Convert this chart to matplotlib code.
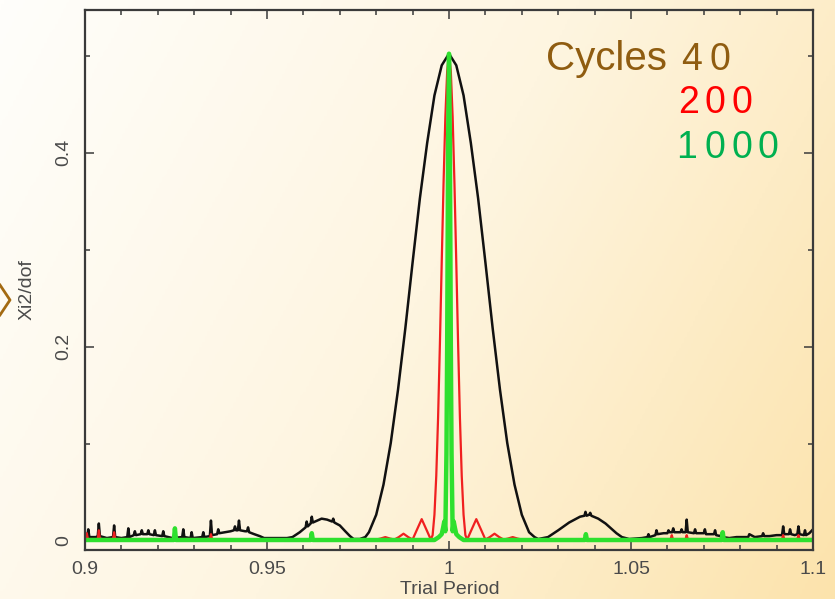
import numpy as np
import matplotlib
matplotlib.use("Agg")
import matplotlib.pyplot as plt
from matplotlib.colors import LinearSegmentedColormap
from matplotlib.lines import Line2D

plt.rcParams['font.family'] = ['Liberation Sans', 'DejaVu Sans']

# ---- data: (trial period, xi2/dof) ----
black_pts = [
    (0.9000, 0.004), (0.9006, 0.004), (0.9009, 0.012), (0.9012, 0.004),
    (0.9030, 0.004), (0.9035, 0.005), (0.9038, 0.018), (0.9041, 0.005),
    (0.9060, 0.003), (0.9077, 0.004), (0.9080, 0.016), (0.9083, 0.004),
    (0.9100, 0.003), (0.9116, 0.004), (0.9119, 0.013), (0.9122, 0.004),
    (0.9134, 0.006), (0.9137, 0.010), (0.9140, 0.006), (0.9153, 0.007),
    (0.9156, 0.011), (0.9159, 0.007), (0.9171, 0.007), (0.9174, 0.011),
    (0.9177, 0.007), (0.9189, 0.006), (0.9192, 0.011), (0.9195, 0.006),
    (0.9212, 0.005), (0.9215, 0.010), (0.9218, 0.005), (0.9240, 0.003),
    (0.9267, 0.004), (0.9270, 0.012), (0.9273, 0.004), (0.9290, 0.003),
    (0.9293, 0.009), (0.9296, 0.003), (0.9322, 0.004), (0.9325, 0.009),
    (0.9328, 0.004), (0.9343, 0.005), (0.9346, 0.021), (0.9349, 0.006),
    (0.9363, 0.007), (0.9366, 0.012), (0.9369, 0.008), (0.9385, 0.009),
    (0.9400, 0.010), (0.9409, 0.011), (0.9412, 0.015), (0.9415, 0.011),
    (0.9420, 0.011), (0.9423, 0.021), (0.9426, 0.011), (0.9440, 0.010),
    (0.9445, 0.010), (0.9448, 0.014), (0.9451, 0.009), (0.9465, 0.007),
    (0.9480, 0.005), (0.9492, 0.003), (0.9520, 0.003), (0.9555, 0.003),
    (0.9570, 0.004), (0.9590, 0.009), (0.9606, 0.014), (0.9609, 0.020),
    (0.9612, 0.015), (0.9620, 0.018), (0.9623, 0.025), (0.9626, 0.019),
    (0.9650, 0.023), (0.9665, 0.022), (0.9679, 0.020), (0.9682, 0.023),
    (0.9685, 0.019), (0.9700, 0.016), (0.9715, 0.010), (0.9728, 0.005),
    (0.9738, 0.002), (0.9755, 0.002), (0.9770, 0.004), (0.9780, 0.009),
    (0.9800, 0.027), (0.9820, 0.058), (0.9840, 0.101), (0.9860, 0.156),
    (0.9880, 0.219), (0.9900, 0.287), (0.9920, 0.353), (0.9940, 0.410),
    (0.9960, 0.459), (0.9980, 0.490), (1.0000, 0.502), (1.0020, 0.490),
    (1.0040, 0.459), (1.0060, 0.410), (1.0080, 0.353), (1.0100, 0.287),
    (1.0120, 0.219), (1.0140, 0.156), (1.0160, 0.101), (1.0180, 0.058),
    (1.0200, 0.027), (1.0220, 0.009), (1.0235, 0.004), (1.0245, 0.002),
    (1.0272, 0.004), (1.0300, 0.011), (1.0330, 0.019), (1.0360, 0.025),
    (1.0372, 0.026), (1.0375, 0.030), (1.0378, 0.026), (1.0385, 0.027),
    (1.0388, 0.029), (1.0391, 0.026), (1.0410, 0.023), (1.0430, 0.018),
    (1.0445, 0.013), (1.0460, 0.008), (1.0475, 0.004), (1.0495, 0.002),
    (1.0530, 0.003), (1.0545, 0.004), (1.0548, 0.007), (1.0551, 0.004),
    (1.0567, 0.006), (1.0570, 0.011), (1.0573, 0.007), (1.0590, 0.008),
    (1.0600, 0.008), (1.0603, 0.011), (1.0606, 0.009), (1.0613, 0.009),
    (1.0616, 0.013), (1.0619, 0.009), (1.0636, 0.009), (1.0639, 0.012),
    (1.0642, 0.009), (1.0650, 0.009), (1.0653, 0.022), (1.0656, 0.009),
    (1.0673, 0.008), (1.0676, 0.012), (1.0679, 0.008), (1.0700, 0.008),
    (1.0703, 0.012), (1.0706, 0.007), (1.0728, 0.007), (1.0731, 0.011),
    (1.0734, 0.006), (1.0746, 0.005), (1.0749, 0.008), (1.0752, 0.004),
    (1.0770, 0.003), (1.0790, 0.004), (1.0800, 0.004), (1.0822, 0.004),
    (1.0825, 0.007), (1.0840, 0.004), (1.0860, 0.005), (1.0863, 0.008),
    (1.0866, 0.005), (1.0880, 0.005), (1.0900, 0.006), (1.0915, 0.006),
    (1.0918, 0.015), (1.0921, 0.007), (1.0934, 0.007), (1.0937, 0.012),
    (1.0940, 0.007), (1.0950, 0.006), (1.0957, 0.007), (1.0960, 0.015),
    (1.0963, 0.007), (1.0975, 0.006), (1.0978, 0.011), (1.0981, 0.006),
    (1.0990, 0.008), (1.1000, 0.012),
]

red_pts = [
    (0.9000, 0.002), (0.9003, 0.002), (0.9005, 0.008), (0.9008, 0.002),
    (0.9035, 0.002), (0.9038, 0.011), (0.9041, 0.002), (0.9077, 0.002),
    (0.9080, 0.009), (0.9083, 0.002), (0.9343, 0.002), (0.9346, 0.007),
    (0.9349, 0.002), (0.9800, 0.0015), (0.9812, 0.0025), (0.9825, 0.004),
    (0.9838, 0.0025), (0.9850, 0.0015), (0.9862, 0.004), (0.9875, 0.0075),
    (0.9888, 0.004), (0.9900, 0.0015), (0.9910, 0.010), (0.9925, 0.0225),
    (0.9940, 0.010), (0.9950, 0.0015), (0.9955, 0.006), (0.9960, 0.027),
    (0.9965, 0.067), (0.9970, 0.127), (0.9975, 0.203), (0.9980, 0.287),
    (0.9985, 0.368), (0.9990, 0.437), (0.9995, 0.484), (1.0000, 0.502),
    (1.0005, 0.484), (1.0010, 0.437), (1.0015, 0.368), (1.0020, 0.287),
    (1.0025, 0.203), (1.0030, 0.127), (1.0035, 0.067), (1.0040, 0.027),
    (1.0045, 0.006), (1.0050, 0.0015), (1.0060, 0.010), (1.0075, 0.0225),
    (1.0090, 0.010), (1.0100, 0.0015), (1.0112, 0.004), (1.0125, 0.0075),
    (1.0138, 0.004), (1.0150, 0.0015), (1.0162, 0.0025), (1.0175, 0.004),
    (1.0188, 0.0025), (1.0200, 0.0015), (1.0609, 0.002), (1.0612, 0.006),
    (1.0615, 0.002), (1.0650, 0.002), (1.0653, 0.006), (1.0656, 0.002),
    (1.0915, 0.002), (1.0918, 0.006), (1.0921, 0.002), (1.0957, 0.002),
    (1.0960, 0.006), (1.0963, 0.002), (1.1000, 0.002),
]

green_pts = [
    (0.9000, 0.001), (0.9244, 0.001), (0.9247, 0.013), (0.9250, 0.001),
    (0.9620, 0.001), (0.9623, 0.008), (0.9626, 0.001), (0.9960, 0.001),
    (0.9972, 0.004), (0.9980, 0.007), (0.9984, 0.014), (0.9987, 0.020),
    (0.9990, 0.010), (0.9993, 0.090), (0.9995, 0.203), (0.99975, 0.405),
    (1.0000, 0.502), (1.00025, 0.405), (1.0005, 0.203), (1.0007, 0.090),
    (1.0010, 0.010), (1.0013, 0.020), (1.0016, 0.014), (1.0020, 0.007),
    (1.0028, 0.004), (1.0040, 0.001), (1.0373, 0.001), (1.0376, 0.007),
    (1.0379, 0.001), (1.0749, 0.001), (1.0752, 0.009), (1.0755, 0.001),
    (1.1000, 0.001),
]

xticks = [0.9, 0.95, 1.0, 1.05, 1.1]
xtick_labels = ['0.9', '0.95', '1', '1.05', '1.1']
yticks = [0.0, 0.2, 0.4]
ytick_labels = ['0', '0.2', '0.4']

W, H = 835, 599
fig = plt.figure(figsize=(W / 100, H / 100), dpi=100)

# warm diagonal background
bg = fig.add_axes([0, 0, 1, 1], zorder=-10)
gx, gy = np.meshgrid(np.linspace(0, 1, 300), np.linspace(0, 1, 220))
grad = 0.72 * gx + 0.28 * gy
cmap = LinearSegmentedColormap.from_list('warm', ['#fffefb', '#fef5e0', '#fce3ac'])
bg.imshow(grad, cmap=cmap, extent=[0, 1, 0, 1], aspect='auto', origin='upper')
bg.axis('off')

ax = fig.add_axes([85 / W, 1 - 550 / H, (813 - 85) / W, (550 - 10) / H], zorder=1)
ax.set_facecolor('none')

for pts, col, lw in [(black_pts, '#111111', 1.8),
                     (red_pts, '#f02020', 1.6),
                     (green_pts, '#2ee02e', 3.2)]:
    px, py = zip(*pts)
    ax.plot(px, py, color=col, lw=lw, solid_joinstyle='round', solid_capstyle='butt')

ax.set_xlim(0.9, 1.1)
ax.set_ylim(-0.0093, 0.547)
ax.set_xticks(xticks)
ax.set_xticklabels(xtick_labels)
ax.set_xticks(np.arange(0.91, 1.1, 0.01), minor=True)
ax.set_yticks(yticks)
ax.set_yticklabels(ytick_labels, rotation=90, va='center')
ax.set_yticks([0.1, 0.3, 0.5], minor=True)

frame_col = '#3a3a3a'
for s in ax.spines.values():
    s.set_color(frame_col)
    s.set_linewidth(1.6)
ax.tick_params(which='both', direction='in', top=True, right=True,
               color=frame_col, width=1.1, labelcolor='#4a4a4a', labelsize=14)
ax.tick_params(which='major', length=6.5)
ax.tick_params(which='minor', length=3.5)
ax.tick_params(axis='x', pad=8)
ax.tick_params(axis='y', pad=9)

fig.text(27 / W, 1 - 290 / H, 'Xi2/dof', rotation=90, ha='center', va='center',
         fontsize=14, color='#4a4a4a')
fig.text(450 / W, 1 - 590 / H, 'Trial Period', ha='center', va='center',
         fontsize=14, color='#4a4a4a')

# annotation text, glyphs placed one by one (wide tracking)
def glyphs(items, y, color, size=27):
    for x, s in items:
        fig.text(x / W, 1 - y / H, s, ha='center', va='baseline',
                 fontsize=size, color=color)

glyphs([(606, 'Cycles')], 70, '#8f5c10', size=29)
glyphs([(692, '4'), (720, '0')], 70, '#8f5c10')
glyphs([(689, '2'), (715, '0'), (742, '0')], 113, '#ff0000')
glyphs([(687, '1'), (715, '0'), (742, '0'), (768, '0')], 158, '#00b050')

# little chevron on the left edge
fig.add_artist(Line2D([0 / W, 10 / W, 0 / W], [1 - 285 / H, 1 - 300 / H, 1 - 315 / H],
                      color='#a36a12', lw=2.0))

fig.savefig('out.png', dpi=100)
